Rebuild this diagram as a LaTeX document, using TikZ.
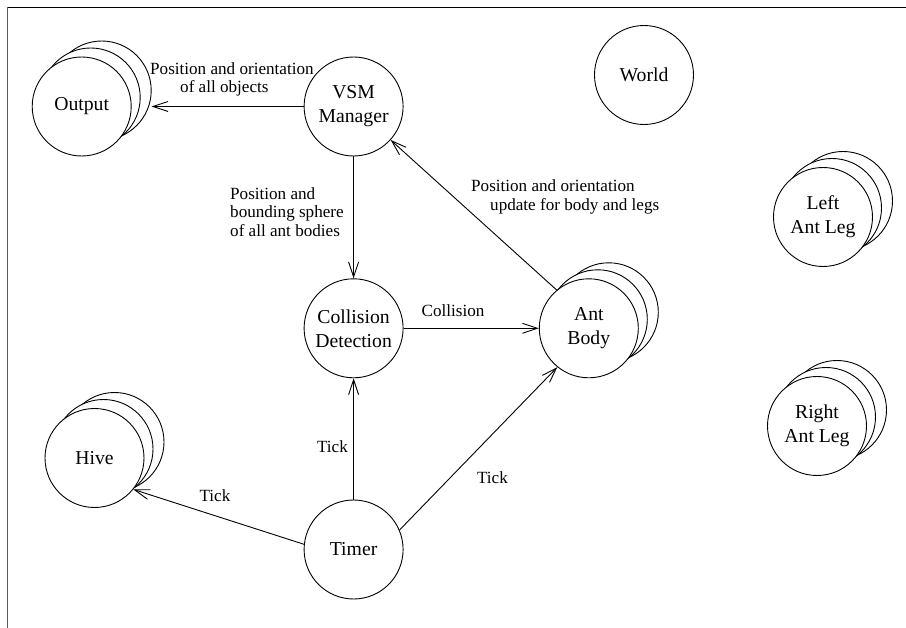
\documentclass[tikz,border=0pt]{standalone}
\usepackage{fontspec}
\setmainfont{LiberationSerif}[Extension=.ttf, UprightFont=*-Regular, BoldFont=*-Bold]
\usetikzlibrary{arrows.meta}
\tikzset{
  obj/.style={circle, draw, line width=0.9pt, fill=white, minimum size=99pt,
    inner sep=0pt, align=center, font=\fontsize{19.7}{24}\selectfont},
  lbl/.style={inner sep=0pt, font=\fontsize{17.1}{18.5}\selectfont},
  flow/.style={line width=0.9pt, -{Straight Barb[length=15pt,width=10pt,line width=0.9pt]}},
  frameline/.style={line width=1pt},
}
\newcommand\stackobj[4]{%
  \node[obj] (#1-c) at (#2+20,#3-16) {};
  \node[obj] (#1-b) at (#2+9,#3-9) {};
  \node[obj] (#1) at (#2,#3) {#4};
}
\begin{document}
\begin{tikzpicture}[x=1pt,y=-1pt]
\useasboundingbox (0,0) rectangle (906,628);
% frame lines
\coordinate (fc) at (7.5,7.5);
\coordinate (fr) at (906,7.5);
\coordinate (fb) at (7.5,628);
\draw[frameline] (fr) -- (fc);
\draw[frameline, black!65] (fc) -- (fb);
% objects
\stackobj{out}{81.7}{106.5}{Output}
\node[obj] (vsm) at (353.6,106.5) {VSM\\Manager};
\node[obj] (world) at (644,75) {World};
\stackobj{lleg}{823}{217}{Left\\Ant Leg}
\stackobj{rleg}{817}{426}{Right\\Ant Leg}
\node[obj] (cd) at (353.6,328.3) {Collision\\Detection};
\stackobj{ab}{588.8}{328.3}{Ant\\Body}
\stackobj{hive}{94.5}{458}{Hive}
\node[obj] (timer) at (353.6,549.5) {Timer};
% connectors
\draw[flow] (vsm) -- (vsm.west -| out-c.east);
\draw[flow] (vsm) -- (cd);
\draw[flow] (cd) -- (ab);
\draw[flow] (ab.130) -- (vsm);
\draw[flow] (timer) -- (cd);
\draw[flow] (timer.23) -- (ab.231);
\draw[flow] (timer.174) -- (hive.-39);
% labels
\node[lbl, anchor=west, align=left] (l1) at (150,79.5)
  {Position and orientation\\\hspace*{30pt}of all objects};
\node[lbl, anchor=west, align=left] (l2) at (230,211.7)
  {Position and\\bounding sphere\\of all ant bodies};
\node[lbl, anchor=west, align=left] (l3) at (471,196.7)
  {Position and orientation\\\hspace*{19pt}update for body and legs};
\node[lbl] (l4) at (453,310.7) {Collision};
\node[lbl] (l5) at (332.5,447) {Tick};
\node[lbl] (l6) at (215,496) {Tick};
\node[lbl] (l7) at (492.5,477.3) {Tick};
\end{tikzpicture}
\end{document}
